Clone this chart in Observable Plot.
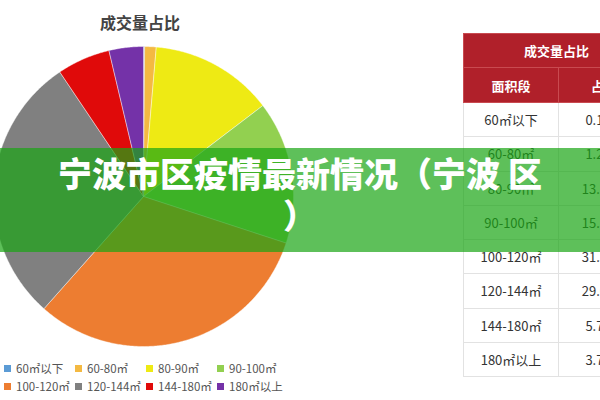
<!DOCTYPE html>
<html><head><meta charset="utf-8">
<script src="https://cdn.jsdelivr.net/npm/d3@7"></script>
<script src="https://cdn.jsdelivr.net/npm/@observablehq/plot@0.6"></script>
<style>
html,body{margin:0;padding:0;background:#fff;}
#wrap{position:relative;width:600px;height:400px;overflow:hidden;font-family:"Noto Sans CJK SC","Noto Sans",sans-serif;}
#plot{position:absolute;left:0;top:0;}
#ctitle{position:absolute;left:60px;width:160px;top:10px;text-align:center;font-size:16px;font-weight:bold;color:#444;}
#legend{position:absolute;left:4px;top:360px;display:grid;grid-template-columns:71px 71px 71px 80px;row-gap:2px;font-size:11.5px;color:#555;}
#legend .it{display:flex;align-items:center;white-space:nowrap;height:16px;}
#legend .sw{width:7px;height:7px;margin-right:5px;}
#tbl{position:absolute;left:463px;top:33px;border-collapse:collapse;font-size:13px;color:#333;table-layout:fixed;width:186px;}
#tbl td,#tbl th{border:1px solid #e2e2e2;text-align:center;padding:0;overflow:hidden;white-space:nowrap;}
#tbl th{background:#b0202a;color:#fff;font-weight:bold;border-color:#c94a50;}
#banner{position:absolute;left:0;top:148px;width:600px;height:104px;background:rgba(25,165,20,0.7);}
#btext{position:absolute;left:-20px;top:152px;width:640px;text-align:center;color:#fff;font-weight:900;font-size:34px;line-height:42px;font-family:"Noto Sans CJK SC",sans-serif;}
</style></head>
<body><div id="wrap">
<div id="plot"></div>
<div id="ctitle">成交量占比</div>
<div id="legend"></div>
<table id="tbl"></table>
<div id="banner"></div>
<div id="btext">宁波市区疫情最新情况（宁波 区<br>）</div>
</div>
<script>
const chartTitle = "成交量占比";
const categories = ["60㎡以下","60-80㎡","80-90㎡","90-100㎡","100-120㎡","120-144㎡","144-180㎡","180㎡以上"];
const shares = [0.12, 1.24, 13.28, 15.39, 31.52, 29.03, 5.72, 3.70];
const colors = ["#5b9bd5","#f4b942","#eeea14","#92d050","#ed7d31","#808080","#e00a0a","#7432a8"];
const tableHeader = ["面积段","占比"];

// pie geometry from data
const pie = d3.pie().sort(null).value(d => d.v)(categories.map((c,i)=>({c, v: shares[i]})));
const pts = [];
for (const s of pie) {
  const cat = s.data.c;
  pts.push({cat, x:0, y:0});
  const n = Math.max(2, Math.ceil((s.endAngle - s.startAngle) / (Math.PI/360)));
  for (let k=0;k<=n;k++){
    const a = s.startAngle + (s.endAngle - s.startAngle)*k/n;
    pts.push({cat, x: Math.sin(a), y: Math.cos(a)});
  }
  pts.push({cat, x:0, y:0});
}
const cx = 143, cy = 196, r = 150;
const chart = Plot.plot({
  width: 600, height: 400,
  margin: 0,
  x: {domain:[-1,1], range:[cx-r, cx+r], axis:null},
  y: {domain:[-1,1], range:[cy+r, cy-r], axis:null},
  color: {domain: categories, range: colors},
  marks: [
    Plot.line(pts, {x:"x", y:"y", z:"cat", fill:"cat", stroke:"#fff", strokeWidth:0.6, strokeOpacity:0.7, curve:"linear-closed"})
  ]
});
document.getElementById("plot").appendChild(chart);

// legend
const lg = document.getElementById("legend");
categories.forEach((c,i)=>{
  const d = document.createElement("div"); d.className="it";
  d.innerHTML = `<span class="sw" style="background:${colors[i]}"></span><span>${c}</span>`;
  lg.appendChild(d);
});

// table
const tb = document.getElementById("tbl");
let html = `<colgroup><col style="width:95px"><col style="width:91px"></colgroup>`;
html += `<tr style="height:34px"><th colspan="2">${chartTitle}</th></tr>`;
html += `<tr style="height:35px"><th>${tableHeader[0]}</th><th>${tableHeader[1]}</th></tr>`;
categories.forEach((c,i)=>{
  html += `<tr style="height:34.25px"><td>${c}</td><td>${shares[i].toFixed(2)}%</td></tr>`;
});
tb.innerHTML = html;
</script>
</body></html>
